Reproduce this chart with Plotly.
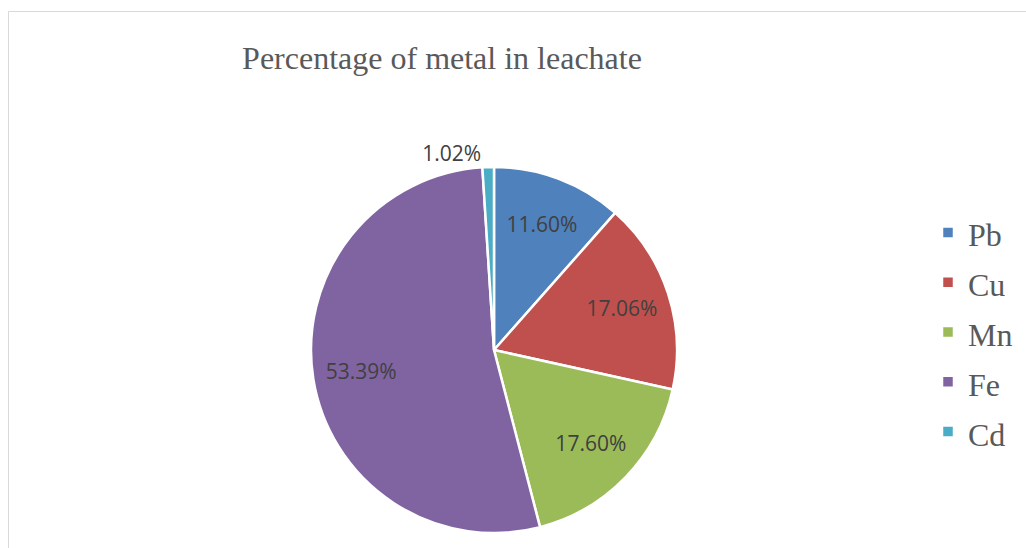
import plotly.graph_objects as go

# Metal shares in the leachate (%)
metals = ["Pb", "Cu", "Mn", "Fe", "Cd"]
percentages = [11.60, 17.06, 17.60, 53.39, 1.02]
colors = ["#4F81BD", "#C0504D", "#9BBB59", "#8064A2", "#4BACC6"]

W, H = 1026, 548
cx, cy, r = 494, 350, 183
domain = dict(x=[(cx - r) / W, (cx + r) / W], y=[(H - cy - r) / H, (H - cy + r) / H])

labels_txt = [f"{p:.2f}%" for p in percentages]
positions = ["inside", "inside", "inside", "inside", "outside"]
# legend entries: roomy row height, text drawn a bit smaller than the row font
legend_names = [f"<span style='font-size:32px'>{m}</span>" for m in metals]

fig = go.Figure()

# coloured slices
fig.add_trace(
    go.Pie(
        labels=legend_names,
        values=percentages,
        textinfo="none",
        sort=False,
        direction="clockwise",
        rotation=0,
        marker=dict(colors=colors, line=dict(color="white", width=2.5)),
        domain=domain,
        showlegend=True,
        hovertext=metals,
        hoverinfo="text+percent",
    )
)

# percentage labels, set out in a ring so they sit toward the rim
fig.add_trace(
    go.Pie(
        labels=metals,
        values=percentages,
        text=labels_txt,
        textinfo="text",
        textposition=positions,
        insidetextorientation="horizontal",
        hole=0.47,
        sort=False,
        direction="clockwise",
        rotation=0,
        marker=dict(colors=["rgba(0,0,0,0)"] * len(metals), line=dict(width=0)),
        textfont=dict(family="Open Sans, Liberation Sans, sans-serif", size=21, color="#404040"),
        domain=domain,
        showlegend=False,
        hoverinfo="skip",
    )
)

fig.update_layout(
    width=W,
    height=H,
    margin=dict(l=0, r=0, t=0, b=0),
    paper_bgcolor="white",
    plot_bgcolor="white",
    title=dict(
        text="Percentage of metal in leachate",
        font=dict(family="Liberation Serif, Times New Roman, serif", size=32, color="#595959"),
        x=442 / W,
        xanchor="center",
        y=1 - 58 / H,
        yanchor="middle",
    ),
    legend=dict(
        x=928 / W,
        xanchor="left",
        y=1 - 332 / H,
        yanchor="middle",
        font=dict(family="Liberation Serif, Times New Roman, serif", size=36, color="#595959"),
        bgcolor="rgba(0,0,0,0)",
    ),
    shapes=[
        dict(
            type="rect", xref="paper", yref="paper",
            x0=8.5 / W, x1=1.2, y0=-0.2, y1=1 - 11.5 / H,
            line=dict(color="#D9D9D9", width=1),
        )
    ],
)

fig.write_html("out.html")
